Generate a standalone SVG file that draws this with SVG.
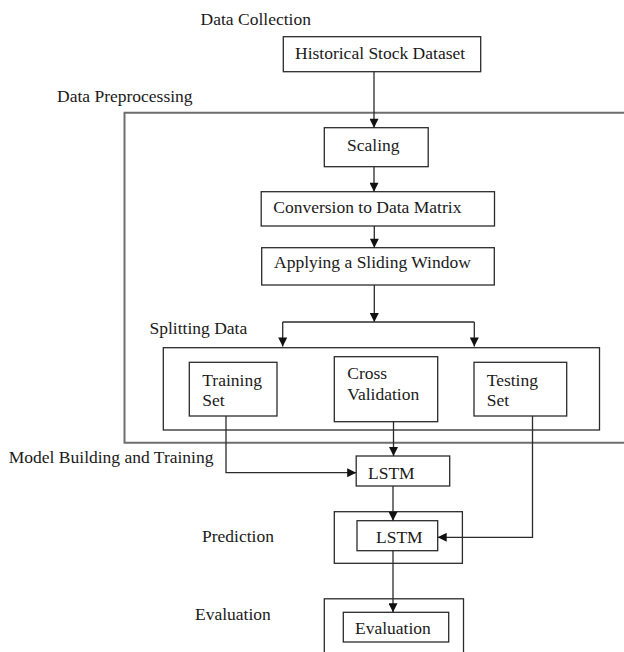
<svg xmlns="http://www.w3.org/2000/svg" width="624" height="652" viewBox="0 0 624 652">
  <style>
    .box { fill: #ffffff; stroke: #2b2b2b; stroke-width: 1.3; }
    .frame { fill: none; stroke: #2b2b2b; stroke-width: 1.3; }
    .outer { fill: none; stroke: #6e6e6e; stroke-width: 2; }
    .lbl { font-family: "Liberation Serif", "Times New Roman", serif; font-size: 17.5px; fill: #1a1a1a; }
    .wire { fill: none; stroke: #2b2b2b; stroke-width: 1.3; }
    .arr { marker-end: url(#head); }
  </style>
  <defs>
    <marker id="head" viewBox="0 0 10 10" refX="10" refY="5" markerWidth="10" markerHeight="9" markerUnits="userSpaceOnUse" orient="auto">
      <path d="M0,0 L10,5 L0,10 Z" fill="#111111"/>
    </marker>
  </defs>
  <rect width="624" height="652" fill="#ffffff"/>

  <!-- stage titles -->
  <g id="stage-titles">
    <text class="lbl" x="200.6" y="25">Data Collection</text>
    <text class="lbl" x="57" y="101.7">Data Preprocessing</text>
    <text class="lbl" x="149.5" y="334">Splitting Data</text>
    <text class="lbl" x="8.8" y="463">Model Building and Training</text>
    <text class="lbl" x="202" y="541.7">Prediction</text>
    <text class="lbl" x="195" y="620">Evaluation</text>
  </g>

  <!-- stage frames -->
  <g id="preprocessing-frame">
    <path class="outer" d="M632,112.7 H124.5 V442.7 H632"/>
  </g>
  <g id="splitting-frame">
    <rect class="frame" x="163.3" y="347.7" width="436.2" height="82.3"/>
  </g>
  <g id="prediction-frame">
    <rect class="frame" x="334.3" y="511.7" width="128.1" height="51.6"/>
  </g>
  <g id="evaluation-frame">
    <rect class="frame" x="324.3" y="598.8" width="139.2" height="60"/>
  </g>

  <!-- process nodes -->
  <g id="historical-stock-dataset">
    <rect class="box" x="283.3" y="36.7" width="197.4" height="35"/>
    <text class="lbl" x="295" y="59.3">Historical Stock Dataset</text>
  </g>
  <g id="scaling">
    <rect class="box" x="324.3" y="127.7" width="103.9" height="39"/>
    <text class="lbl" x="347" y="150.7">Scaling</text>
  </g>
  <g id="conversion">
    <rect class="box" x="261.2" y="191.7" width="233.3" height="34.3"/>
    <text class="lbl" x="273.3" y="213.3">Conversion to Data Matrix</text>
  </g>
  <g id="sliding-window">
    <rect class="box" x="261.7" y="247.7" width="232.6" height="37.3"/>
    <text class="lbl" x="274" y="268.3">Applying a Sliding Window</text>
  </g>
  <g id="training-set">
    <rect class="box" x="189.3" y="362.3" width="87.7" height="53.7"/>
    <text class="lbl" x="202.3" y="385.7">Training</text>
    <text class="lbl" x="202.3" y="406">Set</text>
  </g>
  <g id="cross-validation">
    <rect class="box" x="334.3" y="356.7" width="103.4" height="65"/>
    <text class="lbl" x="347.3" y="379.3">Cross</text>
    <text class="lbl" x="347.3" y="400">Validation</text>
  </g>
  <g id="testing-set">
    <rect class="box" x="474" y="362.3" width="92.7" height="53.7"/>
    <text class="lbl" x="486.7" y="385.7">Testing</text>
    <text class="lbl" x="486.7" y="406">Set</text>
  </g>
  <g id="lstm-training">
    <rect class="box" x="356.2" y="456" width="93.5" height="30"/>
    <text class="lbl" x="368" y="479.3">LSTM</text>
  </g>
  <g id="lstm-prediction">
    <rect class="box" x="357" y="520.7" width="80.7" height="30"/>
    <text class="lbl" x="376" y="543.3">LSTM</text>
  </g>
  <g id="evaluation">
    <rect class="box" x="343.3" y="612.3" width="105.4" height="29.7"/>
    <text class="lbl" x="355" y="634.3">Evaluation</text>
  </g>

  <!-- connectors -->
  <g id="connectors">
    <path class="wire arr" d="M374,71.7 V127.7"/>
    <path class="wire arr" d="M374,166.7 V191.7"/>
    <path class="wire arr" d="M374.3,226 V247.7"/>
    <path class="wire arr" d="M374.3,285 V322"/>
    <path class="wire" d="M282.7,322 H474.3"/>
    <path class="wire arr" d="M282.7,322 V346.5"/>
    <path class="wire arr" d="M474.3,322 V346.5"/>
    <path class="wire arr" d="M226,416 V472.7 H356.2"/>
    <path class="wire arr" d="M393.5,421.7 V456"/>
    <path class="wire arr" d="M393,486 V520.7"/>
    <path class="wire arr" d="M532.5,416 V537.3 H437.7"/>
    <path class="wire arr" d="M393,550.7 V612.3"/>
  </g>
</svg>
